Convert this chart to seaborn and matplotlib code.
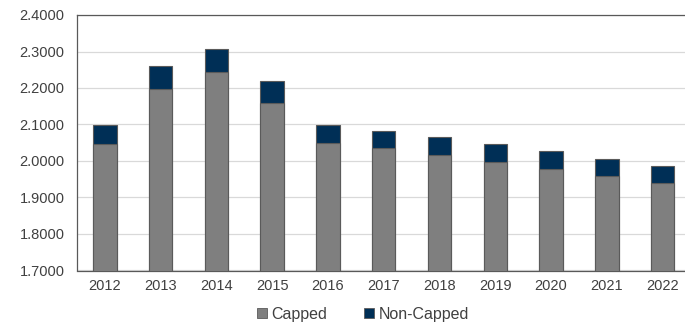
import matplotlib
matplotlib.use("Agg")
import matplotlib.pyplot as plt
from matplotlib.patches import Patch
import seaborn as sns
import pandas as pd

years = ["2012", "2013", "2014", "2015", "2016", "2017", "2018", "2019", "2020", "2021", "2022"]
capped = [2.047, 2.196, 2.244, 2.158, 2.048, 2.036, 2.016, 1.996, 1.977, 1.958, 1.939]
total = [2.098, 2.260, 2.306, 2.218, 2.098, 2.083, 2.067, 2.047, 2.027, 2.005, 1.986]
y_ticks = [1.7, 1.8, 1.9, 2.0, 2.1, 2.2, 2.3, 2.4]

sns.set_theme(style="white")
plt.rcParams["font.family"] = ["Liberation Sans", "DejaVu Sans"]

df = pd.DataFrame({"year": years, "Capped": capped, "Total": total})

GREY = "#7f7f7f"
NAVY = "#002f56"
EDGE = "#5a5a5a"

fig = plt.figure(figsize=(6.85, 3.24), dpi=100)
ax = fig.add_axes([77 / 685, 1 - 270.5 / 324, (690.5 - 77) / 685, (270.5 - 15) / 324])

# Total height drawn first (navy), capped portion drawn over it (grey)
sns.barplot(data=df, x="year", y="Total", color=NAVY, saturation=1, width=0.42,
            edgecolor=EDGE, linewidth=0.8, ax=ax, zorder=3)
sns.barplot(data=df, x="year", y="Capped", color=GREY, saturation=1, width=0.42,
            edgecolor=EDGE, linewidth=0.8, ax=ax, zorder=4)

ax.set_ylim(1.7, 2.4)
ax.set_xlim(-0.5, 10.5)
ax.set_yticks(y_ticks)
ax.set_yticklabels([f"{v:.4f}" for v in y_ticks])
ax.set_xlabel("")
ax.set_ylabel("")
ax.yaxis.grid(True, color="#d9d9d9", linewidth=0.9, zorder=0)
ax.set_axisbelow(True)
for side in ["left", "top", "bottom", "right"]:
    ax.spines[side].set_color("#595959")
    ax.spines[side].set_linewidth(0.9)
ax.tick_params(axis="both", length=0, labelsize=10.5, colors="#404040")
ax.tick_params(axis="y", pad=9)
ax.tick_params(axis="x", pad=6)

handles = [Patch(facecolor=GREY, edgecolor=EDGE, linewidth=0.6, label="Capped"),
           Patch(facecolor=NAVY, edgecolor=EDGE, linewidth=0.6, label="Non-Capped")]
fig.legend(handles=handles, loc="center", bbox_to_anchor=(363 / 685, 1 - 314 / 324),
           ncol=2, frameon=False, fontsize=11.5, handlelength=0.6, handleheight=0.6,
           handletextpad=0.3, columnspacing=2.3, labelcolor="#404040")

fig.savefig("out.png", dpi=100)
